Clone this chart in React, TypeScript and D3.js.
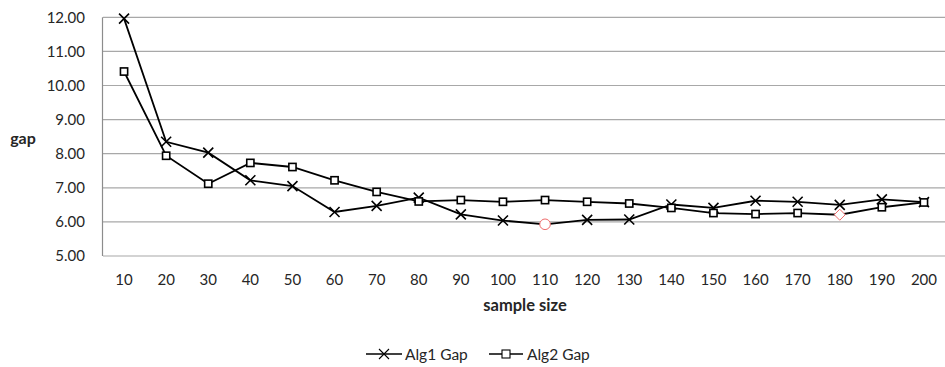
import React from "react";
import * as d3 from "d3";

const categories = ["10","20","30","40","50","60","70","80","90","100","110","120","130","140","150","160","170","180","190","200"];
const alg1 = [11.96, 8.35, 8.03, 7.22, 7.05, 6.29, 6.47, 6.71, 6.22, 6.04, 5.93, 6.06, 6.07, 6.51, 6.41, 6.62, 6.59, 6.50, 6.66, 6.58];
const alg2 = [10.41, 7.94, 7.12, 7.73, 7.61, 7.22, 6.88, 6.60, 6.64, 6.59, 6.64, 6.59, 6.54, 6.41, 6.26, 6.23, 6.26, 6.21, 6.43, 6.57];
const yTicks = [5, 6, 7, 8, 9, 10, 11, 12];
const alg1Special = [10]; // red circle
const alg2Special = [17]; // red diamond

const W = 945, H = 367;
const FONT = "Lato, 'Open Sans', sans-serif";

export default function App() {
  const x = d3.scaleBand<string>().domain(categories).range([103, 945]);
  const y = d3.scaleLinear().domain([5, 12]).range([256, 17.3]);
  const cx = (i: number) => (x(categories[i]) as number) + x.bandwidth() / 2;
  const line = d3.line<number>().x((_, i) => cx(i)).y(d => y(d));

  const xMark = (px: number, py: number, s = 5) =>
    `M${px - s},${py - s}L${px + s},${py + s}M${px - s},${py + s}L${px + s},${py - s}`;

  return (
    <svg width={W} height={H} style={{ position: "absolute", left: 0, top: 0, background: "#fff" }}>
      {yTicks.map(t => (
        <g key={t}>
          <line x1={103} x2={945} y1={y(t)} y2={y(t)} stroke="#a8a8a8" strokeWidth={1.2} />
          <text x={85} y={y(t)} dy="0.36em" textAnchor="end" fontFamily={FONT} fontSize={15} fill="#262626">
            {t.toFixed(2)}
          </text>
        </g>
      ))}
      <line x1={102.5} x2={102.5} y1={y(12)} y2={y(5)} stroke="#8c8c8c" strokeWidth={1.2} />
      {categories.map((c, i) => (
        <text key={c} x={cx(i)} y={285} textAnchor="middle" fontFamily={FONT} fontSize={15} fill="#262626">{c}</text>
      ))}
      <text x={23} y={138} dy="0.36em" textAnchor="middle" fontFamily={FONT} fontSize={16} fontWeight="bold" fill="#262626">gap</text>
      <text x={525} y={311} textAnchor="middle" fontFamily={FONT} fontSize={16.5} fontWeight="bold" fill="#262626">sample size</text>

      <path d={line(alg1) || ""} fill="none" stroke="#000" strokeWidth={1.8} />
      <path d={line(alg2) || ""} fill="none" stroke="#000" strokeWidth={1.8} />

      {alg1.map((v, i) =>
        alg1Special.includes(i) ? (
          <circle key={"a1" + i} cx={cx(i)} cy={y(v)} r={5.3} fill="#fff" stroke="#ee6b6b" strokeWidth={1} />
        ) : (
          <path key={"a1" + i} d={xMark(cx(i), y(v))} stroke="#000" strokeWidth={1.6} fill="none" />
        )
      )}
      {alg2.map((v, i) =>
        alg2Special.includes(i) ? (
          <path key={"a2" + i} d={`M${cx(i)},${y(v) - 5.5}L${cx(i) + 5.5},${y(v)}L${cx(i)},${y(v) + 5.5}L${cx(i) - 5.5},${y(v)}Z`}
            fill="#fff" stroke="#ee6b6b" strokeWidth={1} />
        ) : (
          <rect key={"a2" + i} x={cx(i) - 3.6} y={y(v) - 3.6} width={7.2} height={7.2} fill="#fff" stroke="#000" strokeWidth={1.6} />
        )
      )}

      <g>
        <line x1={366} x2={402} y1={354} y2={354} stroke="#000" strokeWidth={1.6} />
        <path d={xMark(384, 354, 5)} stroke="#000" strokeWidth={1.1} fill="none" />
        <text x={405} y={354} dy="0.36em" fontFamily={FONT} fontSize={15.5} fill="#262626">Alg1 Gap</text>
        <line x1={489} x2={523} y1={354} y2={354} stroke="#000" strokeWidth={1.6} />
        <rect x={502} y={350} width={8} height={8} fill="#fff" stroke="#000" strokeWidth={1.1} />
        <text x={527} y={354} dy="0.36em" fontFamily={FONT} fontSize={15.5} fill="#262626">Alg2 Gap</text>
      </g>
    </svg>
  );
}
